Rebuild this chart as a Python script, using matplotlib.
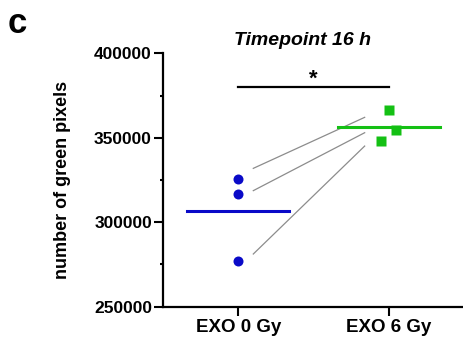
import matplotlib
matplotlib.use("Agg")
import matplotlib.pyplot as plt
from matplotlib.ticker import MultipleLocator

plt.rcParams['font.family'] = ['Liberation Sans', 'DejaVu Sans']

# data
groups = ["EXO 0 Gy", "EXO 6 Gy"]
exo0 = [325600, 316700, 277100]
exo6 = [366400, 354600, 348300]
exo6_jitter = [0.0, 0.05, -0.05]
pair_start = [331900, 318700, 281200]
pair_end = [362100, 353000, 345100]
sig_level = 380000
title = "Timepoint 16 h"

blue = "#0a0ac8"
green = "#14c014"

fig = plt.figure(figsize=(4.64, 3.42), dpi=100)
ax = fig.add_axes([0.3513, 0.1032, 0.6487, 0.7409])

# connecting lines (shortened)
for a, b in zip(pair_start, pair_end):
    ax.plot([0.1, 0.84], [a, b], color="#8c8c8c", lw=0.9, zorder=1)

ax.plot([0] * len(exo0), exo0, "o", color=blue, ms=7.2, mec="none", zorder=3)
ax.plot([1 + j for j in exo6_jitter], exo6, "s", color=green, ms=7.6, mec="none", zorder=3)

m0 = sum(exo0) / len(exo0)
m6 = sum(exo6) / len(exo6)
ax.plot([-0.34, 0.34], [m0, m0], color=blue, lw=2.2, zorder=2)
ax.plot([0.66, 1.34], [m6, m6], color=green, lw=2.2, zorder=2)

# significance bar
ax.plot([0, 1], [sig_level, sig_level], color="black", lw=1.6, clip_on=False)
ax.text(0.5, sig_level + 4500, "*", ha="center", va="center", fontsize=16,
        fontweight="bold")

ax.set_xlim(-0.5, 1.5)
ax.set_ylim(250000, 400000)
ax.set_xticks([0, 1])
ax.set_xticklabels(groups, fontsize=13.5, fontweight="bold")
ax.yaxis.set_major_locator(MultipleLocator(50000))
ax.yaxis.set_minor_locator(MultipleLocator(25000))
for lab in ax.get_yticklabels():
    lab.set_fontweight("bold")
    lab.set_fontsize(12.5)

for s in ["top", "right"]:
    ax.spines[s].set_visible(False)
for s in ["left", "bottom"]:
    ax.spines[s].set_linewidth(1.6)
ax.tick_params(which="major", length=6.5, width=1.5, pad=1.5)
ax.tick_params(axis="x", pad=2.5)
ax.tick_params(which="minor", length=2.2, width=1.5)

ax.set_ylabel("number of green pixels", fontsize=13, fontweight="bold")
ax.yaxis.set_label_coords(-0.305, 0.5)

ax.text(0.426, 407500, title, ha="center", va="center", fontsize=14,
        fontweight="bold", fontstyle="italic", clip_on=False)
fig.text(0.017, 0.93, "c", ha="left", va="center", fontsize=25, fontweight="bold")

fig.savefig("out.png", dpi=100)
